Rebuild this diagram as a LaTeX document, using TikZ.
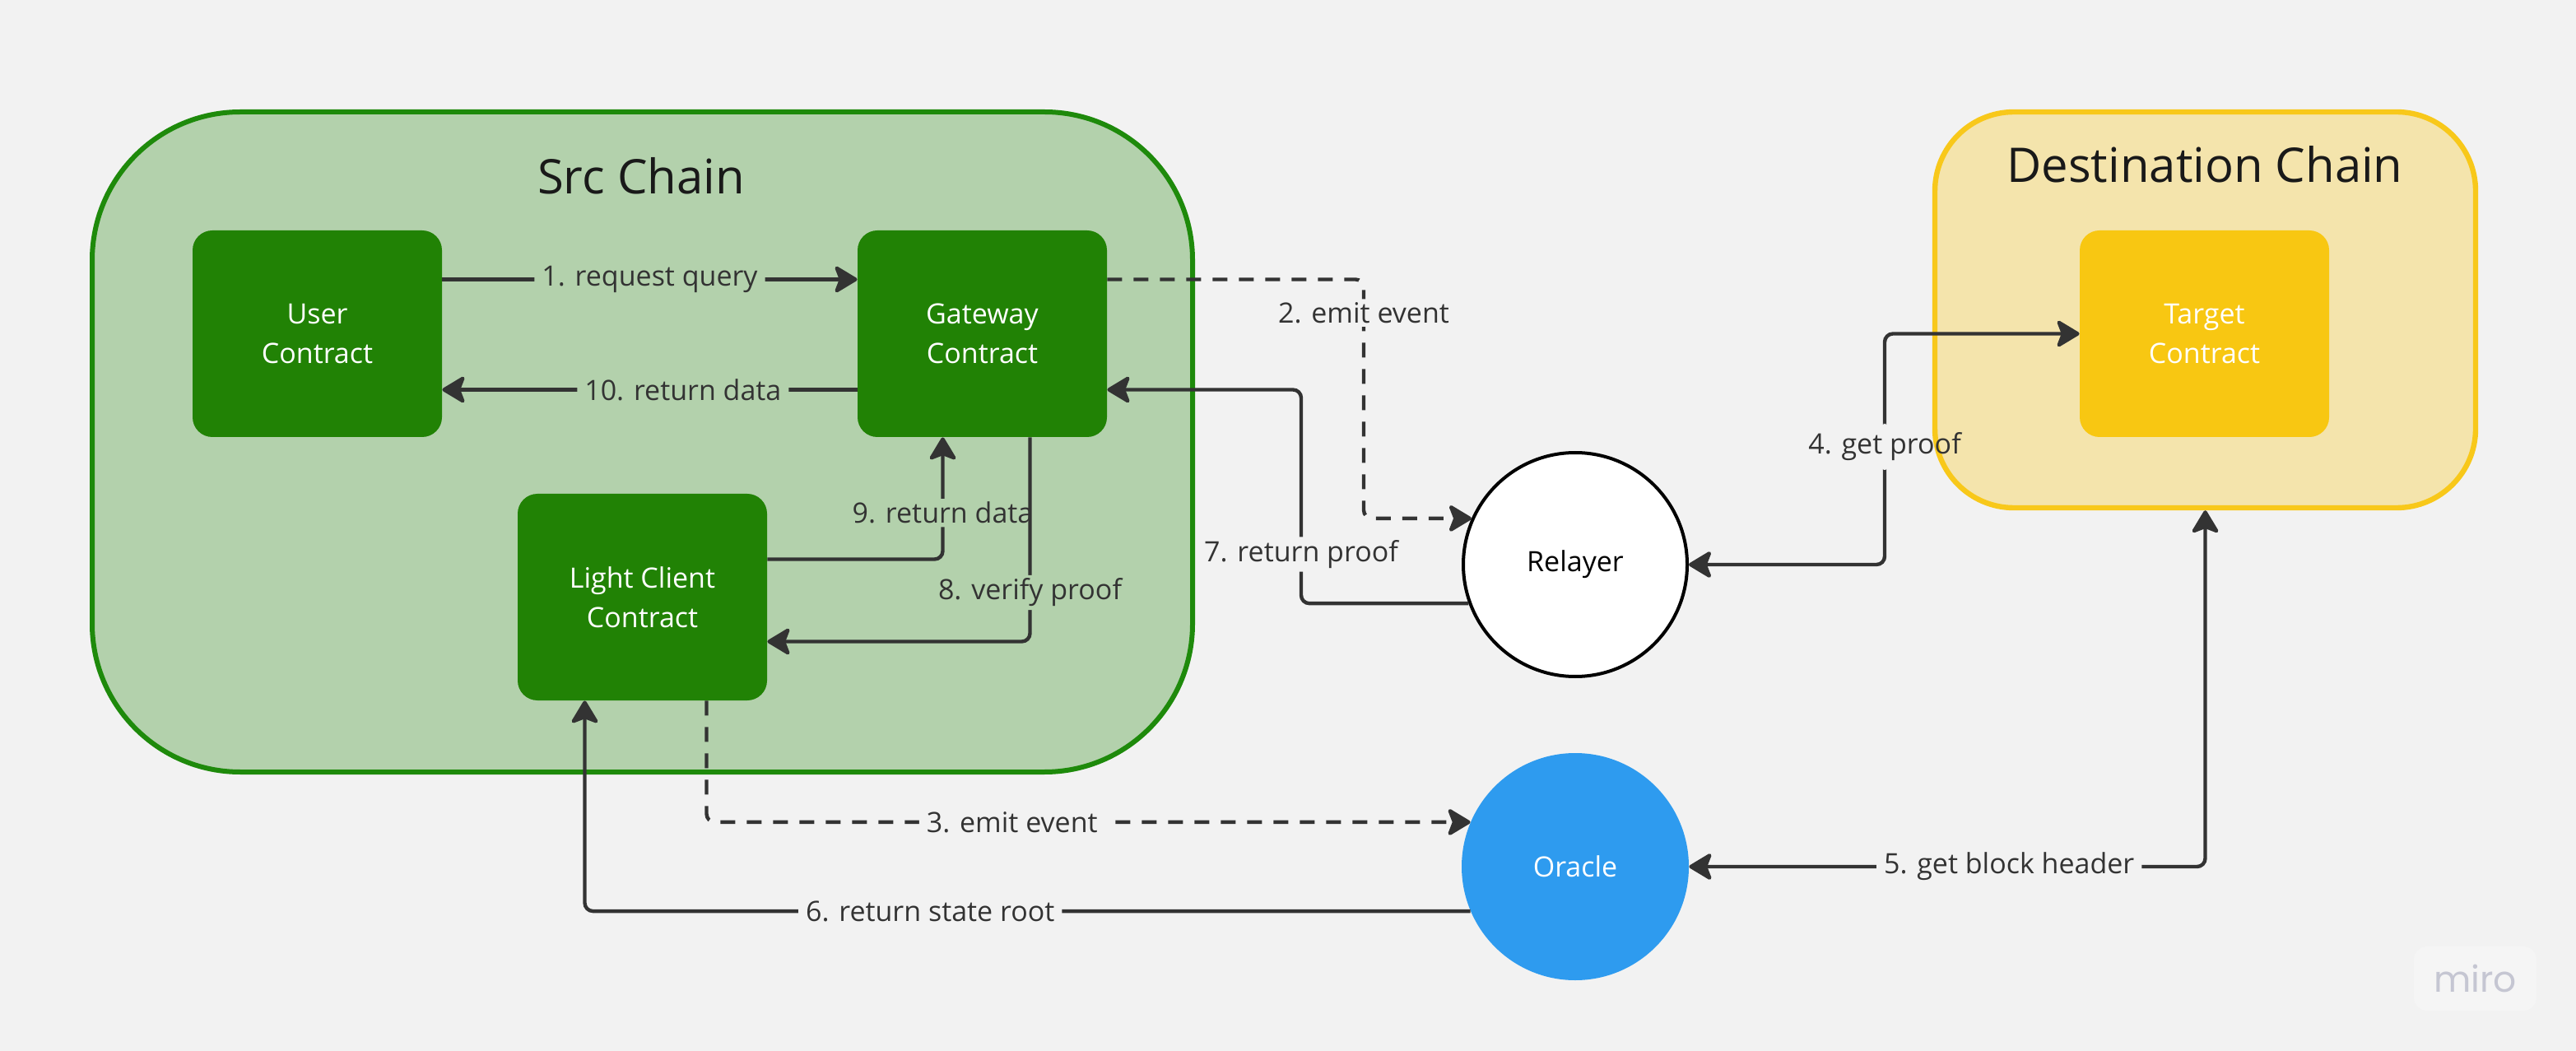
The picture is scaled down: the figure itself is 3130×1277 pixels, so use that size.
\documentclass[tikz,border=0pt]{standalone}
\usepackage{fontspec}
\setmainfont{Open Sans}
\newfontfamily\mirofont{Poppins}
\usetikzlibrary{arrows.meta}

\definecolor{canvas}{HTML}{F2F2F2}
\definecolor{srcfill}{HTML}{B3D1AC}
\definecolor{srcline}{HTML}{1E8A0B}
\definecolor{srcbox}{HTML}{218205}
\definecolor{dstfill}{HTML}{F4E4AC}
\definecolor{dstline}{HTML}{F8C81A}
\definecolor{dstbox}{HTML}{F8C712}
\definecolor{oracleblue}{HTML}{2E9BEF}
\definecolor{ink}{HTML}{333333}
\definecolor{mirogrey}{HTML}{C5C6D2}

\begin{document}
\begin{tikzpicture}[x=0.5pt, y=-0.5pt, >={Stealth[length=15.5pt,width=18.5pt,inset=3.5pt,round]},
	every node/.style={font=\fontsize{17}{24}\selectfont},
	title/.style={font=\fontsize{29}{34}\selectfont, text=black!90},
	contract/.style={fill=srcbox, rounded corners=12pt, minimum width=151.5pt, minimum height=125.5pt, text=white, align=center},
	flow/.style={draw=ink, line width=2.2pt, rounded corners=5pt},
	dashflow/.style={flow, dash pattern=on 9pt off 7pt},
	lbl/.style={fill=canvas, text=ink, inner xsep=4.5pt, inner ysep=2pt},
	inlbl/.style={lbl, fill=srcfill},
	gap/.style={fill=canvas, inner sep=0pt, minimum width=8pt, minimum height=28pt}]
	\useasboundingbox (0,0) rectangle (3130,1277);
	\fill[canvas] (0,0) rectangle (3130,1277);
	\node[draw=srcline, fill=srcfill, line width=3pt, rounded corners=90pt, minimum width=668.5pt, minimum height=401pt] (src) at (780.5,537) {};
	\node[title] (srctitle) at (779,214) {Src Chain};
	\node[draw=dstline, fill=dstfill, line width=3.2pt, rounded corners=48pt, minimum width=328.5pt, minimum height=240.5pt] (dst) at (2679.5,376.5) {};
	\node[title] (dsttitle) at (2679,200) {Destination Chain};
	\node[contract] (user) at (385.5,405.5) {User\\Contract};
	\node[contract] (gw) at (1193.5,405.5) {Gateway\\Contract};
	\node[contract] (lc) at (780.5,725.5) {Light Client\\Contract};
	\node[contract, fill=dstbox] (target) at (2678.5,405.5) {Target\\Contract};
	\node[circle, draw=black, line width=2pt, fill=white, minimum size=136pt] (relayer) at (1914,686) {Relayer};
	\node[circle, fill=oracleblue, text=white, minimum size=138pt] (oracle) at (1914,1053) {Oracle};
	\coordinate (c2) at (1657,0);
	\coordinate (c7) at (1581,0);
	\coordinate (c4) at (2290,0);
	\coordinate (g7) at ([yshift=-34pt]gw.east);
	\draw[flow,->] ([yshift=33pt]user.east) -- node[inlbl]{1. request query} ([yshift=33pt]gw.west);
	\draw[flow,->] ([yshift=-34pt]gw.west) -- node[inlbl,pos=0.42]{10. return data} ([yshift=-34pt]user.east);
	\draw[dashflow,->] ([yshift=33pt]gw.east) -| node[lbl,pos=0.57]{2. emit event} (relayer.156 -| c2) -- (relayer.156);
	\draw[flow,->] (relayer.200) -| node[lbl,pos=0.615]{7. return proof} (g7 -| c7) -- (g7);
	\draw[flow,<->] (relayer.east) -| node[gap,pos=0.755,label={[text=ink]center:4. get proof}]{} (target.west -| c4) -- (target.west);
	\draw[flow,<->] (oracle.east) -| node[lbl,pos=0.31]{5. get block header} (dst.south);
	\draw[flow,->] (oracle.203) -| node[lbl,pos=0.305]{6. return state root} ([xshift=-35pt]lc.south);
	\draw[dashflow,->] ([xshift=39pt]lc.south) |- node[lbl,pos=0.70]{3. emit event} (oracle.157);
	\draw[flow,->] ([yshift=23pt]lc.east) -| node[inlbl,pos=0.69]{9. return data} ([xshift=-24pt]gw.south);
	\draw[flow,->] ([xshift=29pt]gw.south) |- node[inlbl,pos=0.38]{8. verify proof} ([yshift=-27pt]lc.east);
	\node[fill=white!25!canvas, rounded corners=8pt, minimum width=74.5pt, minimum height=39pt, text=mirogrey, font=\mirofont\fontsize{22}{22}\selectfont] (miro) at (3007.5,1189) {miro};
\end{tikzpicture}
\end{document}
